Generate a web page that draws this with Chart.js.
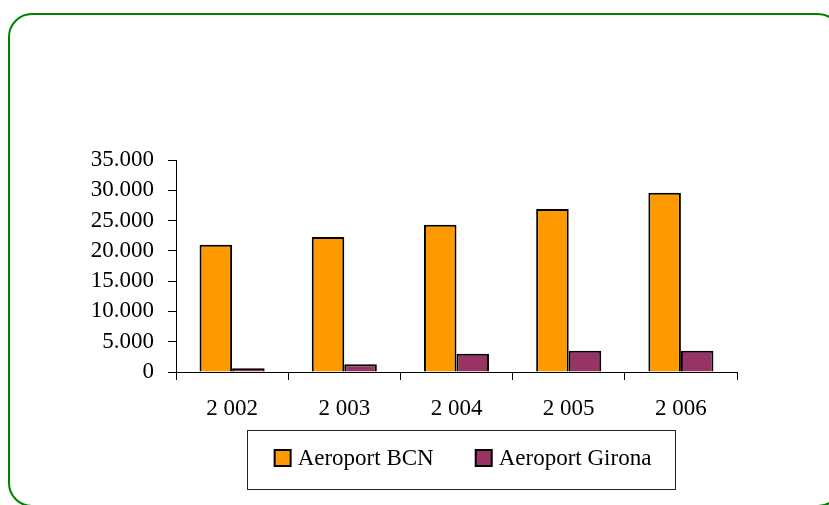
<!DOCTYPE html>
<html>
<head>
<meta charset="utf-8">
<script src="https://cdn.jsdelivr.net/npm/chart.js@4/dist/chart.umd.min.js"></script>
<style>
  html, body { margin: 0; padding: 0; background: #fff; }
  #wrap { position: relative; width: 829px; height: 505px; overflow: hidden; }
  #frame {
    position: absolute; left: 8px; top: 13px; width: 834px; height: 494px;
    border: 2px solid #008000; border-radius: 24px; box-sizing: border-box;
  }
  canvas { position: absolute; left: 0; top: 0; }
</style>
</head>
<body>
<div id="wrap">
  <div id="frame"></div>
  <canvas id="chart" width="829" height="505"></canvas>
</div>
<script>
const years = ['2 002', '2 003', '2 004', '2 005', '2 006'];
const bcn = [21000, 22300, 24300, 26900, 29600];
const girona = [600, 1300, 3000, 3500, 3500];

const FONT = 'Liberation Serif, Times New Roman, serif';

// legend drawn in a box under the axis, like the original
const boxedLegend = {
  id: 'boxedLegend',
  afterDraw(chart) {
    const ctx = chart.ctx;
    const items = chart.data.datasets;
    ctx.save();
    ctx.font = '23px ' + FONT;
    const sq = 16, gapText = 7, gapItem = 42;
    const widths = items.map(ds => sq + gapText + ctx.measureText(ds.label).width);
    const total = widths.reduce((a, b) => a + b, 0) + gapItem * (items.length - 1);
    const cx = 463, cy = 458;
    let x = cx - total / 2;

    ctx.strokeStyle = '#222';
    ctx.lineWidth = 1;
    ctx.strokeRect(247.5, 430.5, 428, 59);

    items.forEach((ds, i) => {
      ctx.fillStyle = ds.backgroundColor;
      ctx.fillRect(x, cy - sq / 2, sq, sq);
      ctx.lineWidth = 2;
      ctx.strokeStyle = '#000';
      ctx.strokeRect(x, cy - sq / 2, sq, sq);
      ctx.fillStyle = '#000';
      ctx.textBaseline = 'middle';
      ctx.textAlign = 'left';
      ctx.fillText(ds.label, x + sq + gapText, cy + 1);
      x += widths[i] + gapItem;
    });
    ctx.restore();
  }
};

new Chart(document.getElementById('chart'), {
  type: 'bar',
  data: {
    labels: years,
    datasets: [
      { label: 'Aeroport BCN', data: bcn, backgroundColor: '#FF9900', borderColor: '#000', borderWidth: 2 },
      { label: 'Aeroport Girona', data: girona, backgroundColor: '#993366', borderColor: '#000', borderWidth: 2 }
    ]
  },
  options: {
    responsive: false,
    animation: false,
    events: [],
    layout: { padding: { left: 0, right: 92, top: 160, bottom: 73 } },
    datasets: { bar: { categoryPercentage: 0.58, barPercentage: 1 } },
    plugins: {
      legend: { display: false },
      tooltip: { enabled: false }
    },
    scales: {
      x: {
        clip: false,
        afterFit: s => { s.height = 60; },
        grid: { display: true, drawOnChartArea: false, tickLength: 8, tickColor: '#000', offset: true },
        border: { color: '#000', width: 1 },
        ticks: { color: '#000', padding: 15, font: { family: FONT, size: 23 } }
      },
      y: {
        min: 0,
        max: 35000,
        afterFit: s => { s.width = 176; },
        grid: { display: true, drawOnChartArea: false, tickLength: 8, tickColor: '#000' },
        border: { color: '#000', width: 1 },
        ticks: {
          stepSize: 5000,
          autoSkip: false,
          color: '#000',
          padding: 14,
          font: { family: FONT, size: 23 },
          callback: v => String(v).replace(/\B(?=(\d{3})+(?!\d))/g, '.')
        }
      }
    }
  },
  plugins: [boxedLegend]
});
</script>
</body>
</html>
